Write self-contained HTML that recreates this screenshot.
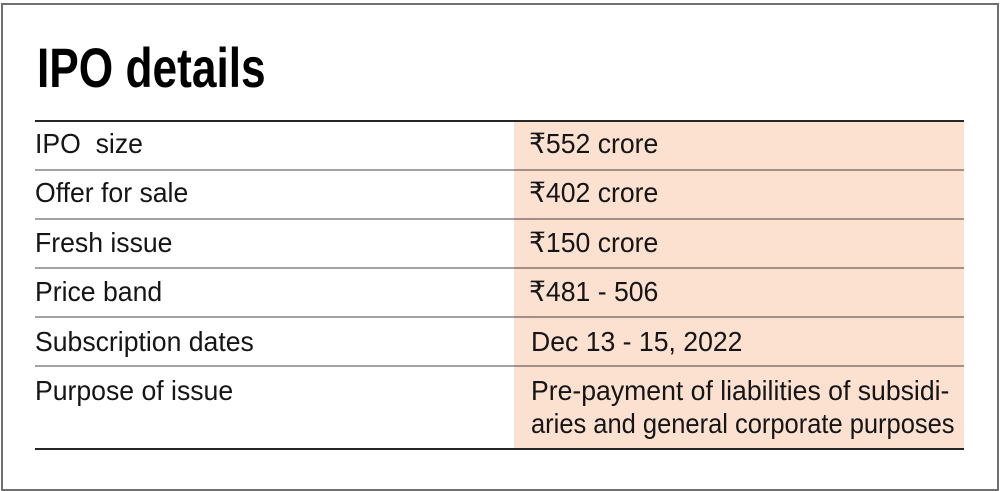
<!DOCTYPE html>
<html>
<head>
<meta charset="utf-8">
<style>
  html, body { margin:0; padding:0; background:#ffffff; }
  body { width:1000px; height:491px; position:relative; overflow:hidden;
         font-family:"Liberation Sans","DejaVu Sans",sans-serif; color:#111; }
  .frame { position:absolute; left:1px; top:3px; width:994px; height:484px;
           border:2px solid #707070; }
  .title { position:absolute; left:37px; top:40px; font-size:56px; line-height:56px;
           font-weight:bold; color:#000; white-space:nowrap;
           transform:scaleX(0.79); transform-origin:0 0; }
  .peach { position:absolute; left:514px; top:122px; width:450px; height:326px; background:#fce1d1; }
  .hl { position:absolute; left:35px; width:929px; height:2px; }
  .dark { background:#262626; }
  .gray { background:rgba(0,0,0,0.36); }
  .t { position:absolute; font-size:28px; line-height:28px; white-space:nowrap;
       transform:scaleX(0.95); transform-origin:0 0; color:#151515; }
  .lab { left:35px; }
  .val { left:529px; }
</style>
</head>
<body>
  <div class="frame"></div>
  <div class="title">IPO details</div>

  <div class="peach"></div>

  <div class="hl dark" style="top:120px;"></div>
  <div class="hl gray" style="top:169px;"></div>
  <div class="hl gray" style="top:218px;"></div>
  <div class="hl gray" style="top:267px;"></div>
  <div class="hl gray" style="top:316px;"></div>
  <div class="hl gray" style="top:365px;"></div>
  <div class="hl dark" style="top:448px;"></div>

  <div class="t lab" style="top:130px;">IPO&nbsp; size</div>
  <div class="t val" style="top:130px;">₹552 crore</div>

  <div class="t lab" style="top:179px;">Offer for sale</div>
  <div class="t val" style="top:179px;">₹402 crore</div>

  <div class="t lab" style="top:229px;">Fresh issue</div>
  <div class="t val" style="top:229px;">₹150 crore</div>

  <div class="t lab" style="top:278px;">Price band</div>
  <div class="t val" style="top:278px;">₹481 - 506</div>

  <div class="t lab" style="top:328px;">Subscription dates</div>
  <div class="t val" style="top:328px; left:531px;">Dec 13 - 15, 2022</div>

  <div class="t lab" style="top:377px;">Purpose of issue</div>
  <div class="t val" style="top:377px; left:531px;">Pre-payment of liabilities of subsidi-</div>
  <div class="t val" style="top:410px; left:531px; transform:scaleX(0.91);">aries and general corporate purposes</div>
</body>
</html>
